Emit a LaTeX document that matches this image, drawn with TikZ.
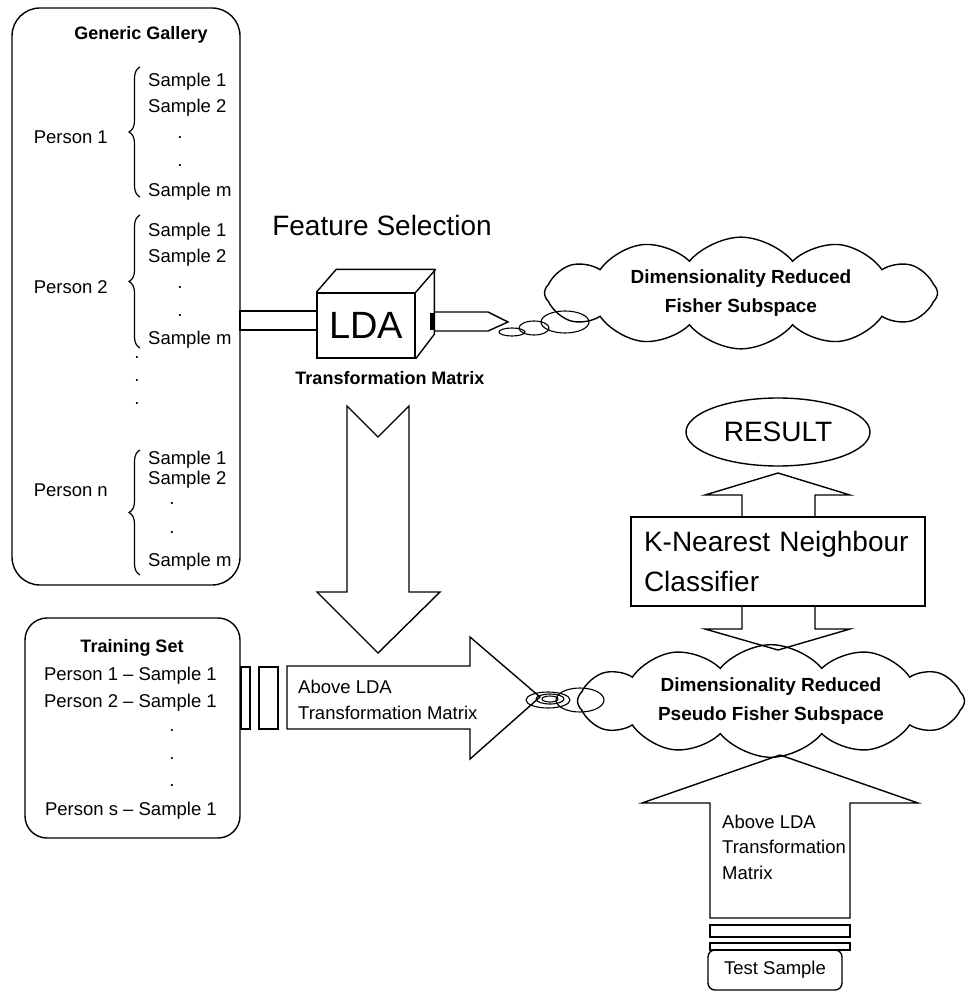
\documentclass[tikz,border=0pt]{standalone}
\usepackage{fontspec}
\setmainfont{Liberation Sans}
\usetikzlibrary{positioning, shapes.geometric, shapes.symbols, decorations.pathreplacing}

\tikzset{
  plainbox/.style={draw, line width=1.4pt},
  roundbox/.style={draw, line width=1.4pt, rounded corners=#1},
  roundbox/.default=20pt,
  txt/.style={inner sep=0pt, font=\fontsize{18.5}{26}\selectfont},
  boldtxt/.style={inner sep=0pt, font=\bfseries\fontsize{18}{26}\selectfont},
  blockarrow/.style={draw, line width=1.4pt, line join=miter},
  bubble/.style={draw, line width=1.1pt},
  grpbrace/.style={draw, line width=1.2pt, decorate, decoration={brace, amplitude=11pt}},
  dimcloud/.style={draw, line width=1.4pt, cloud, cloud puffs=12, cloud puff arc=100,
                   cloud ignores aspect, align=center, font=\bfseries\fontsize{19}{29}\selectfont},
}

\begin{document}
\begin{tikzpicture}[x=1pt, y=-1pt]
\useasboundingbox (0,0) rectangle (968,992);

% generic gallery
\draw (126,296.5) node[roundbox=28pt, minimum width=228pt, minimum height=577pt] (gallery) {};
\draw (141,35)  node[boldtxt, font=\bfseries\fontsize{18}{20}\selectfont] (gallerytitle) {Generic Gallery};

\draw (108,137) node[txt, anchor=east] (p1) {Person 1};
\draw[grpbrace] (140,197) -- (140,67);
\draw (148,82)  node[txt, anchor=west] (p1s1) {Sample 1};
\draw (148,108) node[txt, anchor=west] (p1s2) {Sample 2};
\draw (148,192) node[txt, anchor=west] (p1sm) {Sample m};

\draw (108,287) node[txt, anchor=east] (p2) {Person 2};
\draw[grpbrace] (140,348) -- (140,215);
\draw (148,232) node[txt, anchor=west] (p2s1) {Sample 1};
\draw (148,258) node[txt, anchor=west] (p2s2) {Sample 2};
\draw (148,340) node[txt, anchor=west] (p2sm) {Sample m};

\draw (108,490) node[txt, anchor=east] (pn) {Person n};
\draw[grpbrace] (140,575) -- (140,450);
\draw (148,460) node[txt, anchor=west] (pns1) {Sample 1};
\draw (148,480) node[txt, anchor=west] (pns2) {Sample 2};
\draw (148,562) node[txt, anchor=west] (pnsm) {Sample m};

\foreach \y in {138,166,288,316} \draw (180,\y) node[txt] {.};
\foreach \y in {504,533} \draw (172,\y) node[txt] {.};
\foreach \y in {358,381,404} \draw (137,\y) node[txt] {.};

% feature selection
\draw (382,225) node[txt, font=\fontsize{28}{30}\selectfont] (featsel) {Feature Selection};
\draw (366,325.5) node[plainbox, minimum width=98pt, minimum height=65pt,
      font=\fontsize{38}{40}\selectfont] (lda) {LDA};
\draw[plainbox] (lda.north west) -- ++(20,-23) -- ++(98,0) -- ++(0,65) -- (lda.south east);
\draw[plainbox] (lda.north east) -- ++(20,-23);
\draw (390,378) node[boldtxt] (transmat) {Transformation Matrix};

\draw[plainbox] (240,311) rectangle (317,330);
\draw[line width=3.5pt] (432,313) -- (432,330);
\draw[blockarrow] (435,312) -- (488,312) -- (508,322) -- (488,331) -- (435,331);
\draw[bubble] (512,332) ellipse (13pt and 4pt);
\draw[bubble] (534,328) ellipse (15pt and 7pt);
\draw[bubble] (565,322) ellipse (24pt and 11pt);

\draw (741,293) node[dimcloud, minimum width=393pt, minimum height=107pt] (fisher)
      {Dimensionality Reduced\\Fisher Subspace};

% transformation applied to training set
\draw[blockarrow] (347,406) -- (378,437) -- (409,406) -- (409,592) -- (440,592)
      -- (378,653) -- (317,592) -- (347,592) -- cycle;

\draw (132.5,728) node[roundbox=22pt, minimum width=215pt, minimum height=220pt] (training) {};
\draw (132,648) node[boldtxt] (trainingtitle) {Training Set};
\draw (217,676) node[txt, anchor=east] (t1) {Person 1 -- Sample 1};
\draw (217,703) node[txt, anchor=east] (t2) {Person 2 -- Sample 1};
\foreach \y in {731,759,786} \draw (172,\y) node[txt] {.};
\draw (217,811) node[txt, anchor=east] (ts) {Person s -- Sample 1};

\draw[plainbox] (241,667) rectangle (250,729);
\draw[plainbox] (259,667) rectangle (278,729);
\draw[blockarrow] (287,666) -- (470,666) -- (470,637) -- (540,697) -- (470,759)
      -- (470,729) -- (287,729) -- cycle;
\draw (298,687) node[txt, anchor=west] (abovelda1) {Above LDA};
\draw (298,713) node[txt, anchor=west] (transmat1) {Transformation Matrix};
\draw[bubble] (550,699) ellipse (8pt and 3pt);
\draw[bubble] (550,699) ellipse (14pt and 5pt);
\draw[bubble] (548,700) ellipse (22pt and 8pt);
\draw[bubble] (580,700) ellipse (24pt and 12pt);

\draw (771,701) node[dimcloud, minimum width=387pt, minimum height=112pt] (pseudo)
      {Dimensionality Reduced\\Pseudo Fisher Subspace};

% classification
\draw (778,432) node[draw, line width=1.4pt, ellipse, minimum width=184pt, minimum height=68pt,
      font=\fontsize{28}{30}\selectfont] (result) {RESULT};
\draw (778,561.5) node[plainbox, minimum width=294pt, minimum height=89pt, text width=268pt,
      align=left, font=\fontsize{28}{40}\selectfont] (knn) {K-Nearest Neighbour\\Classifier};
\draw[blockarrow] (742,517) -- (742,495) -- (705,495) -- (778,473) -- (850,495) -- (815,495) -- (815,517);
\draw[blockarrow] (742,606) -- (742,629) -- (705,629) -- (778,650) -- (850,629) -- (815,629) -- (815,606);

% test sample
\draw[blockarrow] (710,918) -- (710,803) -- (642,803) -- (780,755) -- (918,803) -- (850,803)
      -- (850,918) -- cycle;
\draw (722,822) node[txt, anchor=west] (abovelda2) {Above LDA};
\draw (722,847) node[txt, anchor=west] (transmat2) {Transformation};
\draw (722,873) node[txt, anchor=west] (matrix2) {Matrix};
\draw[plainbox] (710,925) rectangle (850,937);
\draw[plainbox] (710,943) rectangle (850,950);
\draw (775,970) node[roundbox=7pt, minimum width=134pt, minimum height=40pt, txt] (testsample) {Test Sample};

\end{tikzpicture}
\end{document}
